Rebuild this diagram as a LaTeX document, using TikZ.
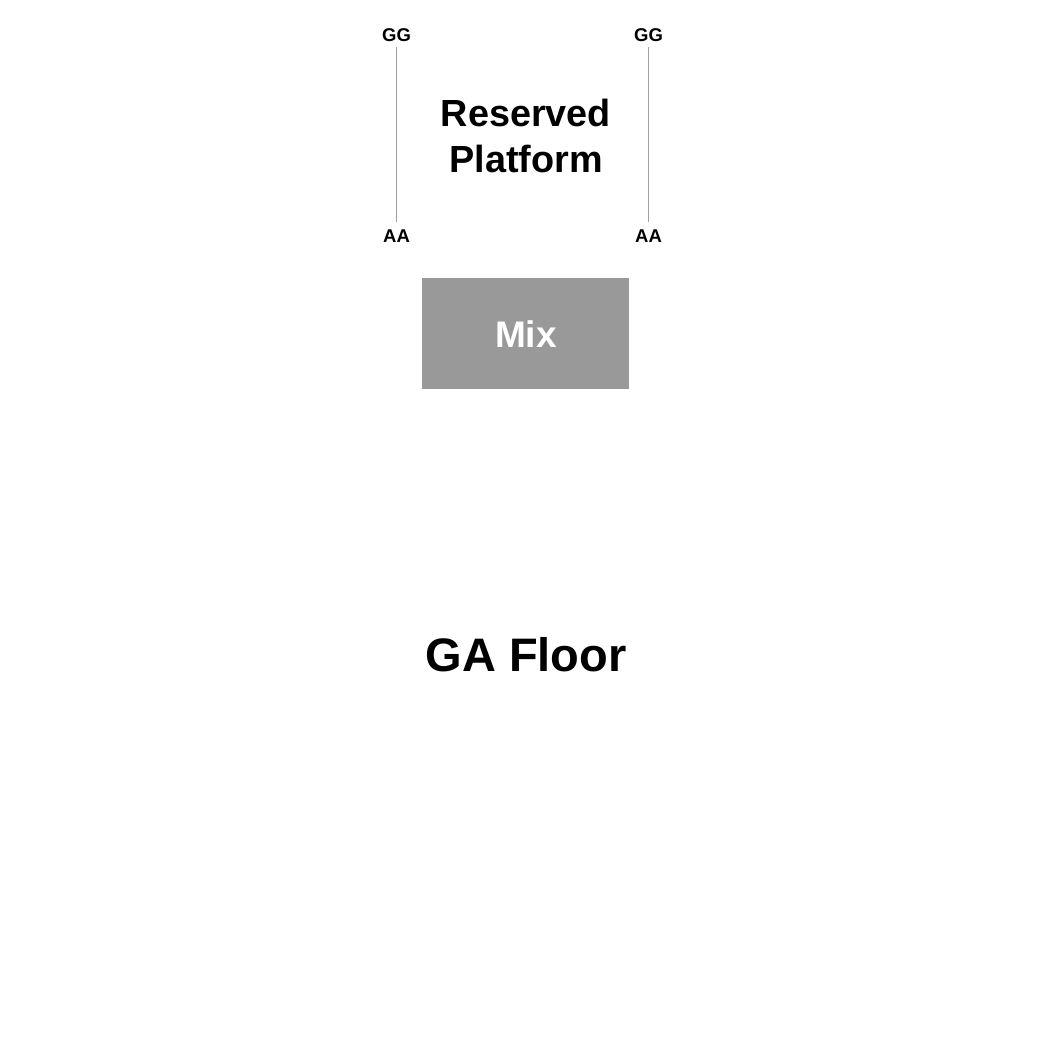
\documentclass[tikz,border=0pt]{standalone}
\usepackage{fontspec}
\setmainfont{Liberation Sans}
\definecolor{mixgray}{HTML}{999999}
\definecolor{railgray}{HTML}{A0A0A0}
\tikzset{
  lbl/.style={inner sep=0pt, anchor=center, font=\bfseries\fontsize{18.5}{20}\selectfont},
  title/.style={inner sep=0pt, align=center, font=\bfseries\fontsize{37.8}{46}\selectfont},
  mixbox/.style={fill=mixgray, draw=none, minimum width=207.5pt, minimum height=111pt, inner sep=0pt},
  rail/.style={draw=railgray, line width=1pt}
}
\begin{document}
\begin{tikzpicture}[x=1pt,y=-1pt]
  \useasboundingbox (0,0) rectangle (1050,1050);
  \node[lbl] (gg1) at (396.5,35) {GG};
  \node[lbl] (gg2) at (648.5,35) {GG};
  \node[lbl] (aa1) at (396.5,236) {AA};
  \node[lbl] (aa2) at (648.5,236) {AA};
  \coordinate (t1) at (396,47);
  \coordinate (b1) at (396,222);
  \coordinate (t2) at (648,47);
  \coordinate (b2) at (648,222);
  \draw[rail] (t1) -- (b1);
  \draw[rail] (t2) -- (b2);
  \node[title] (rp) at (526,136) {Reserved\\Platform};
  \node[mixbox] (mix) at (525.25,333.5) {};
  \node[inner sep=0pt, anchor=center, text=white, font=\bfseries\fontsize{37}{40}\selectfont] (mixt) at (526,334) {Mix};
  \node[inner sep=0pt, anchor=center, font=\bfseries\fontsize{47}{52}\selectfont] (ga) at (526,655) {GA Floor};
\end{tikzpicture}
\end{document}
